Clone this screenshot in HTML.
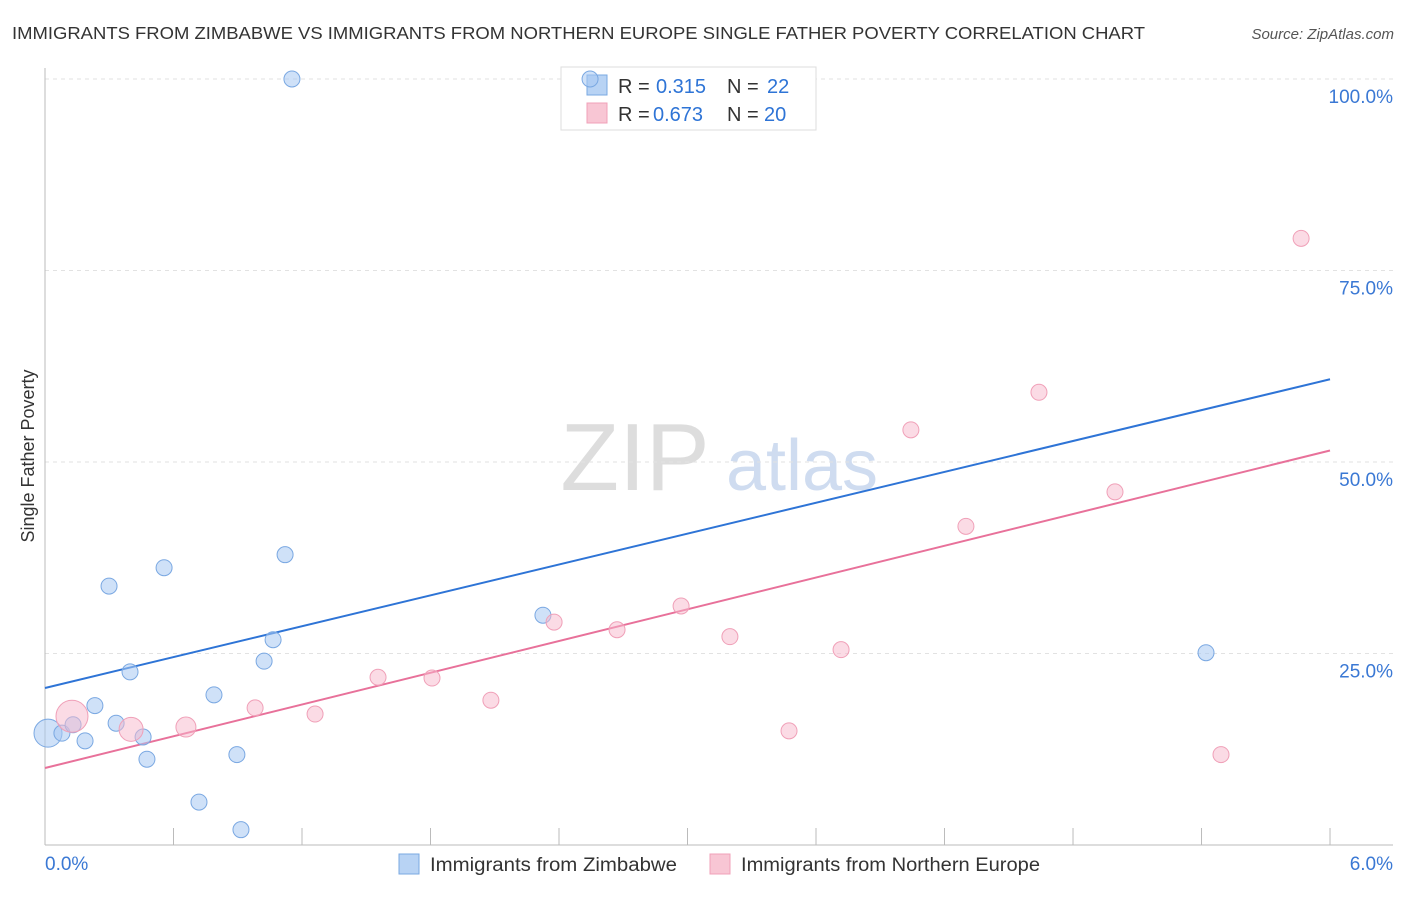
<!DOCTYPE html>
<html><head><meta charset="utf-8"><style>
body{margin:0;background:#fff;font-family:"Liberation Sans",sans-serif;}
svg text{font-family:"Liberation Sans",sans-serif;}
</style></head><body>
<svg width="1406" height="892" viewBox="0 0 1406 892">
<text x="12" y="39" font-size="17.5" fill="#333" textLength="1133" lengthAdjust="spacingAndGlyphs">IMMIGRANTS FROM ZIMBABWE VS IMMIGRANTS FROM NORTHERN EUROPE SINGLE FATHER POVERTY CORRELATION CHART</text>
<text x="1394" y="39" font-size="15" fill="#555" text-anchor="end" font-style="italic">Source: ZipAtlas.com</text>
<g>
<text x="635" y="490" font-size="96" fill="#ddd" text-anchor="middle" font-family="Liberation Serif,serif">ZIP</text>
<text x="802" y="490" font-size="72" fill="#cfdcf0" text-anchor="middle">atlas</text>
</g>
<g id="grid"></g>
<g id="axes"></g>
<g id="lines"></g>
<g>
<rect x="561" y="67" width="255" height="63" fill="#fff" stroke="#ddd"/>
<rect x="587" y="75" width="20" height="20" fill="#b8d3f4" stroke="#7aa8e2"/>
<text x="618" y="93" font-size="20" fill="#333">R =</text>
<text x="656" y="93" font-size="20" fill="#2e74d6">0.315</text>
<text x="727" y="93" font-size="20" fill="#333">N =</text>
<text x="767" y="93" font-size="20" fill="#2e74d6">22</text>
<rect x="587" y="103" width="20" height="20" fill="#f8c6d4" stroke="#f0a0b8"/>
<text x="618" y="121" font-size="20" fill="#333">R =</text>
<text x="653" y="121" font-size="20" fill="#2e74d6">0.673</text>
<text x="727" y="121" font-size="20" fill="#333">N =</text>
<text x="764" y="121" font-size="20" fill="#2e74d6">20</text>
</g>
<g id="pts"></g>
<g>
<rect x="399" y="854" width="20" height="20" fill="#b8d3f4" stroke="#7aa8e2"/>
<text x="430" y="871" font-size="19" fill="#333" textLength="247" lengthAdjust="spacingAndGlyphs">Immigrants from Zimbabwe</text>
<rect x="710" y="854" width="20" height="20" fill="#f8c6d4" stroke="#f0a0b8"/>
<text x="741" y="871" font-size="19" fill="#333" textLength="299" lengthAdjust="spacingAndGlyphs">Immigrants from Northern Europe</text>
</g>
<text x="34" y="456" font-size="18" fill="#333" text-anchor="middle" transform="rotate(-90 34 456)">Single Father Poverty</text>
</svg>
<script>
const blueX=[0.014,0.079,0.131,0.187,0.233,0.299,0.332,0.397,0.458,0.476,0.556,0.719,0.789,0.896,0.915,1.023,1.065,1.121,1.153,2.325,2.545,5.421];
const blueY=[14.6,14.6,15.7,13.6,18.2,33.8,15.9,22.6,14.1,11.2,36.2,5.6,19.6,11.8,2.0,24.0,26.8,37.9,100,30.0,100,25.1];
const blueR=[14,8,8,8,8,8,8,8,8,8,8,8,8,8,8,8,8,8,8,8,8,8];
const pinkX=[0.126,0.402,0.658,0.981,1.261,1.555,1.807,2.082,2.377,2.671,2.97,3.198,3.474,3.717,4.043,4.3,4.641,4.996,5.491,5.865];
const pinkY=[16.8,15.1,15.4,17.9,17.1,21.9,21.8,18.9,29.1,28.1,31.2,27.2,14.9,25.5,54.2,41.6,59.1,46.1,11.8,79.2];
const pinkR=[16,12,10,8,8,8,8,8,8,8,8,8,8,8,8,8,8,8,8,8];
const blueLine=[20.5,60.8];
const pinkLine=[10.05,51.5];
const yTicks=[25,50,75,100];
const yTickLabels=["25.0%","50.0%","75.0%","100.0%"];
const xTicks=[0,0.6,1.2,1.8,2.4,3.0,3.6,4.2,4.8,5.4,6.0];
const xEndLabels=["0.0%","6.0%"];
const NS="http://www.w3.org/2000/svg";
const sx=v=>45+v*214.17, sy=v=>845-v*7.66;
function mk(parent,tag,attrs){const e=document.createElementNS(NS,tag);for(const k in attrs)e.setAttribute(k,attrs[k]);document.getElementById(parent).appendChild(e);return e;}
yTicks.forEach((t,i)=>{
 const g=mk('grid','line',{x1:45,x2:1393,y1:sy(t),y2:sy(t),stroke:'#e2e2e2','stroke-dasharray':'4,4'});
 
 
 const l=mk('grid','text',{x:1393,y:sy(t)+24,'font-size':19,fill:'#3a78d4','text-anchor':'end'});
 l.textContent=yTickLabels[i];
 
 
});
const xa=mk('axes','line',{x1:45,x2:1393,y1:845,y2:845,stroke:'#bbb'});


const ya=mk('axes','line',{x1:45,x2:45,y1:68,y2:845,stroke:'#bbb'});


xTicks.forEach(t=>{
 const k=mk('axes','line',{x1:sx(t),x2:sx(t),y1:828,y2:845,stroke:'#bbb'});
 
 
});
const xl0=mk('axes','text',{x:45,y:870,'font-size':19,fill:'#3a78d4'});xl0.textContent=xEndLabels[0];


const xl1=mk('axes','text',{x:1393,y:870,'font-size':19,fill:'#3a78d4','text-anchor':'end'});xl1.textContent=xEndLabels[1];


function pts(X,Y,R,fill,stroke,name){X.forEach((x,i)=>{
 const c=mk('pts','circle',{cx:sx(x),cy:sy(Y[i]),r:R[i],fill:fill,stroke:stroke,'stroke-width':1});
 
 
});}
pts(blueX,blueY,blueR,'rgba(168,200,242,0.55)','#7aa8e2','zimbabwe-point');
pts(pinkX,pinkY,pinkR,'rgba(248,184,204,0.5)','#f0a0b8','northern-europe-point');
const bl=mk('lines','line',{x1:sx(0),x2:sx(6),y1:sy(blueLine[0]),y2:sy(blueLine[1]),stroke:'#2e74d6','stroke-width':2});


const pl=mk('lines','line',{x1:sx(0),x2:sx(6),y1:sy(pinkLine[0]),y2:sy(pinkLine[1]),stroke:'#e8719a','stroke-width':2});


</script>
</body></html>
